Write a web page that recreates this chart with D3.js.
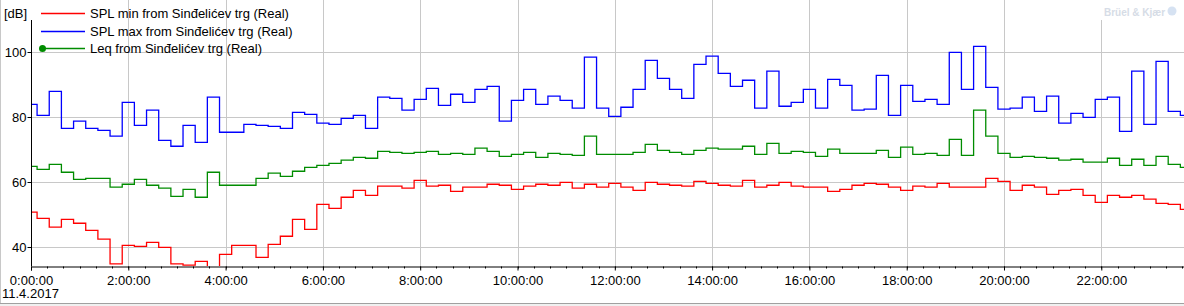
<!DOCTYPE html>
<html>
<head>
<meta charset="utf-8">
<script src="https://cdn.jsdelivr.net/npm/d3@7"></script>
<style>
  body { margin: 0; background: #fff; }
  svg { display: block; }
</style>
</head>
<body>
<div id="chart"></div>
<script>
// 15-minute values for 11.4.2017
const splMin = [
  50.8, 48.9, 46.2, 48.6, 47.4, 45.2, 42.5, 34.9, 40.6, 40.3, 41.5, 40.0,
  34.9, 34.5, 35.7, 32.0, 37.8, 40.6, 40.6, 36.9, 40.9, 43.4, 48.6, 45.5,
  53.2, 52.0, 55.4, 57.5, 56.0, 58.8, 58.8, 58.2, 60.6, 58.8, 59.1, 57.2,
  58.5, 58.5, 59.4, 59.1, 57.8, 58.8, 59.4, 59.1, 60.0, 58.2, 59.4, 58.5,
  59.7, 58.5, 57.5, 60.0, 59.4, 59.1, 58.8, 60.3, 59.7, 59.1, 58.8, 60.6,
  58.5, 59.1, 60.0, 58.8, 58.5, 58.5, 57.2, 57.8, 59.1, 59.7, 59.4, 58.5,
  57.5, 58.8, 58.5, 59.7, 58.5, 58.5, 58.5, 61.2, 60.3, 57.5, 59.1, 58.5,
  56.3, 57.5, 57.8, 56.0, 53.8, 56.0, 55.4, 56.0, 54.8, 53.5, 53.2, 51.7
];
const splMax = [
  84.0, 80.6, 88.0, 76.6, 78.8, 76.6, 76.0, 74.2, 84.6, 77.5, 82.2, 72.9,
  71.1, 77.5, 72.3, 86.2, 75.4, 75.4, 77.8, 77.5, 77.2, 76.6, 81.5, 80.9,
  78.2, 77.8, 79.7, 80.6, 76.6, 86.2, 85.8, 82.2, 85.5, 88.9, 83.7, 87.1,
  84.6, 88.6, 89.5, 78.8, 85.2, 88.6, 84.0, 86.5, 85.2, 82.8, 98.5, 82.8,
  80.3, 83.1, 88.6, 97.5, 92.0, 88.6, 85.8, 96.3, 98.8, 93.5, 89.5, 91.4,
  82.8, 94.2, 83.4, 84.6, 88.6, 82.8, 91.7, 89.8, 82.2, 82.5, 92.9, 80.6,
  89.8, 84.9, 85.5, 84.0, 100.0, 88.6, 101.8, 89.2, 82.5, 82.8, 86.2, 81.8,
  86.5, 78.2, 81.2, 80.0, 85.5, 86.2, 75.7, 94.2, 77.8, 97.2, 81.8, 80.6
];
const leq = [
  64.9, 64.0, 65.5, 63.1, 60.9, 61.2, 61.2, 58.5, 59.4, 60.9, 59.1, 58.2,
  55.7, 57.8, 55.4, 63.1, 59.1, 59.1, 59.1, 61.2, 62.8, 61.8, 63.4, 64.6,
  65.2, 65.8, 66.8, 67.7, 67.4, 69.5, 69.2, 68.9, 69.2, 69.5, 68.6, 68.9,
  68.6, 70.5, 69.5, 68.0, 68.6, 69.2, 67.7, 68.9, 68.6, 68.3, 74.2, 68.6,
  68.6, 68.6, 69.2, 71.7, 69.8, 69.2, 68.6, 69.8, 70.5, 70.2, 70.2, 71.1,
  68.6, 72.0, 68.9, 69.5, 69.2, 68.0, 70.2, 68.9, 68.9, 68.9, 69.8, 67.7,
  70.8, 68.6, 68.9, 68.3, 73.2, 68.3, 82.2, 74.2, 68.9, 67.7, 68.0, 67.7,
  67.4, 66.8, 67.1, 66.2, 66.2, 67.4, 65.2, 67.1, 65.2, 68.0, 65.5, 64.6
];
const seriesNames = [
  "SPL min from Sinđelićev trg (Real)",
  "SPL max from Sinđelićev trg (Real)",
  "Leq from Sinđelićev trg (Real)"
];
const seriesColors = ["#ff0000", "#0000ff", "#008c00"];
const yTicks = [40, 60, 80, 100];
const dateLabel = "11.4.2017";
const unitLabel = "[dB]";

const width = 1184, height = 306;
const plotLeft = 31, plotBottom = 266;
const hourPx = 48.65;
const fontFamily = "'Liberation Sans', Arial, sans-serif";
const fontSize = "13px";

const start = new Date(2017, 3, 11, 0, 0, 0);
const end = new Date(2017, 3, 12, 0, 0, 0);
const timeOf = i => new Date(start.getTime() + i * 15 * 60 * 1000);

const x = d3.scaleTime()
  .domain([start, end])
  .range([plotLeft, plotLeft + 24 * hourPx]);

const y = d3.scaleLinear()
  .domain([40, 100])
  .range([247.3, 52.3]);

const svg = d3.select("#chart")
  .append("svg")
  .attr("width", width)
  .attr("height", height)
  .attr("font-family", fontFamily);

// frame
svg.append("rect")
  .attr("x", 0).attr("y", 303).attr("width", width).attr("height", 3)
  .attr("fill", "#f0f0f0");
svg.append("line")
  .attr("x1", 0).attr("x2", width).attr("y1", 303.5).attr("y2", 303.5)
  .attr("stroke", "#a0a0a0");
svg.append("line")
  .attr("x1", 0.5).attr("x2", 0.5).attr("y1", 0).attr("y2", 303)
  .attr("stroke", "#c8c8c8");

// grid
const gridColor = "#c8c8c8";
svg.append("g")
  .selectAll("line")
  .data(yTicks)
  .join("line")
  .attr("x1", plotLeft).attr("x2", width)
  .attr("y1", d => Math.round(y(d)) + 0.5)
  .attr("y2", d => Math.round(y(d)) + 0.5)
  .attr("stroke", gridColor);

const hourTicks = d3.timeHour.every(2).range(start, end);
svg.append("g")
  .selectAll("line")
  .data(hourTicks.slice(1))
  .join("line")
  .attr("x1", d => Math.round(x(d)) + 0.5)
  .attr("x2", d => Math.round(x(d)) + 0.5)
  .attr("y1", 0).attr("y2", plotBottom)
  .attr("stroke", gridColor);

// series
svg.append("clipPath").attr("id", "plot-clip")
  .append("rect")
  .attr("x", plotLeft).attr("y", 0)
  .attr("width", width - plotLeft).attr("height", plotBottom);

const line = d3.line()
  .x((d, i) => x(timeOf(i)))
  .y(d => y(d))
  .curve(d3.curveStep);

const seriesData = [splMin, splMax, leq];
svg.append("g")
  .attr("clip-path", "url(#plot-clip)")
  .selectAll("path")
  .data(seriesData)
  .join("path")
  .attr("fill", "none")
  .attr("stroke", (d, i) => seriesColors[i])
  .attr("stroke-width", 1.3)
  .attr("d", line);

// y axis
const yAxis = svg.append("g")
  .attr("transform", `translate(${plotLeft + 0.5},0)`);
yAxis.append("line")
  .attr("y1", 20).attr("y2", plotBottom)
  .attr("stroke", "#000");
yAxis.selectAll(".ytick")
  .data(yTicks)
  .join("g")
  .attr("class", "ytick")
  .attr("transform", d => `translate(0,${Math.round(y(d)) + 0.5})`)
  .call(g => g.append("line").attr("x1", -4).attr("x2", 0).attr("stroke", "#000"))
  .call(g => g.append("text")
    .attr("x", -5)
    .attr("dy", "0.36em")
    .attr("text-anchor", "end")
    .attr("font-size", fontSize)
    .attr("fill", "#000")
    .text(d => d));

// x axis
const xAxis = d3.axisBottom(x)
  .tickValues(hourTicks)
  .tickFormat(d3.timeFormat("%-H:%M:%S"))
  .tickSize(4)
  .tickPadding(5);

const gx = svg.append("g")
  .attr("transform", `translate(0,${plotBottom + 0.5})`)
  .call(xAxis);
gx.select(".domain").attr("stroke", "#000");
gx.selectAll("text").attr("font-size", fontSize).attr("font-family", fontFamily).attr("fill", "#000");

// minor ticks every 20 minutes
gx.append("g")
  .selectAll("line")
  .data(d3.timeMinute.every(20).range(start, end))
  .join("line")
  .attr("x1", d => Math.round(x(d)) + 0.5)
  .attr("x2", d => Math.round(x(d)) + 0.5)
  .attr("y1", 0).attr("y2", 2)
  .attr("stroke", "#000");

svg.append("text")
  .attr("x", 2).attr("y", 298)
  .attr("font-size", fontSize)
  .attr("fill", "#000")
  .text(dateLabel);

svg.append("text")
  .attr("x", 4).attr("y", 18)
  .attr("font-size", fontSize)
  .attr("fill", "#000")
  .text(unitLabel);

// legend
const legend = svg.append("g")
  .selectAll("g")
  .data(seriesNames)
  .join("g")
  .attr("transform", (d, i) => `translate(41,${Math.round(13 + i * 17.6) + 0.5})`);

legend.append("line")
  .attr("x1", 0).attr("x2", 44)
  .attr("stroke", (d, i) => seriesColors[i])
  .attr("stroke-width", 1.3);

legend.filter((d, i) => i === 2)
  .append("circle")
  .attr("cx", 1.5).attr("r", 3.5)
  .attr("fill", seriesColors[2]);

legend.append("text")
  .attr("x", 49)
  .attr("dy", "0.36em")
  .attr("font-size", "13px")
  .attr("fill", "#000")
  .text(d => d);

// logo
const logo = svg.append("g");
logo.append("rect")
  .attr("x", 1092).attr("y", 0).attr("width", 92).attr("height", 20)
  .attr("fill", "#fff");
logo.append("text")
  .attr("x", 1104).attr("y", 16)
  .attr("font-size", "10px")
  .attr("font-weight", "bold")
  .attr("fill", "#d6dce6")
  .text("Brüel & Kjær");
logo.append("circle")
  .attr("cx", 1172).attr("cy", 11).attr("r", 4.5)
  .attr("fill", "#d6e2f2");
</script>
</body>
</html>
